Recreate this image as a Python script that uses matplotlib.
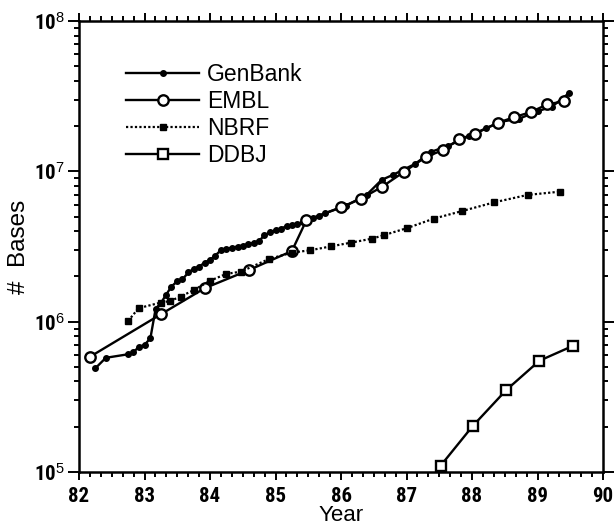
import math
import matplotlib
matplotlib.use("Agg")
import matplotlib.pyplot as plt
from matplotlib import font_manager as fm
from matplotlib.ticker import FixedLocator, LogLocator, NullFormatter, FuncFormatter

# ---- data (values in millions of bases) ----
genbank_year = [82.25, 82.41, 82.75, 82.83, 82.92, 83.00, 83.09, 83.17, 83.25, 83.33,
                83.41, 83.50, 83.58, 83.67, 83.75, 83.83, 83.92, 84.00, 84.08, 84.17,
                84.25, 84.33, 84.42, 84.50, 84.58, 84.67, 84.75, 84.83, 84.92, 85.00,
                85.08, 85.17, 85.25, 85.33, 85.42, 85.50, 85.58, 85.67, 85.76, 86.07,
                86.39, 86.62, 86.79, 87.13, 87.38, 87.64, 87.96, 88.22, 88.45, 88.72,
                89.00, 89.22, 89.48]
genbank_val = [0.49, 0.575, 0.607, 0.628, 0.682, 0.70, 0.776, 1.22, 1.33, 1.51,
               1.71, 1.86, 1.91, 2.13, 2.24, 2.32, 2.47, 2.58, 2.75, 3.00,
               3.05, 3.10, 3.16, 3.21, 3.27, 3.35, 3.44, 3.76, 3.94, 4.06,
               4.15, 4.32, 4.42, 4.49, 4.59, 4.73, 4.90, 5.07, 5.27, 5.89,
               6.97, 8.77, 9.46, 11.2, 13.5, 14.8, 17.2, 19.4, 21.4, 22.4,
               25.1, 26.9, 33.1]

embl_year = [82.17, 83.25, 83.92, 84.60, 85.25, 85.47, 86.00, 86.30, 86.63, 86.96,
             87.30, 87.55, 87.80, 88.05, 88.39, 88.64, 88.90, 89.15, 89.40]
embl_val = [0.585, 1.12, 1.67, 2.21, 2.95, 4.71, 5.77, 6.55, 7.91, 9.91,
            12.5, 13.8, 16.3, 17.8, 21.0, 22.9, 24.8, 27.9, 29.2]

nbrf_year = [82.75, 82.91, 83.25, 83.39, 83.55, 83.75, 84.00, 84.25, 84.47, 84.90,
             85.25, 85.52, 85.85, 86.16, 86.48, 86.66, 87.00, 87.42, 87.84, 88.34,
             88.85, 89.35]
nbrf_val = [1.01, 1.23, 1.34, 1.37, 1.47, 1.62, 1.87, 2.08, 2.15, 2.61,
            2.88, 2.98, 3.17, 3.36, 3.57, 3.77, 4.18, 4.85, 5.43, 6.22,
            6.97, 7.33]

ddbj_year = [87.52, 88.01, 88.52, 89.03, 89.54]
ddbj_val = [0.11, 0.202, 0.35, 0.55, 0.69]

series_labels = ["GenBank", "EMBL", "NBRF", "DDBJ"]
x_ticks = [82, 83, 84, 85, 86, 87, 88, 89, 90]
y_ticks_exp = [5, 6, 7, 8]

MILLION = 1e6


def first_font(cands, weight='normal', stretch='normal'):
    for c in cands:
        try:
            fm.findfont(fm.FontProperties(family=c, weight=weight, stretch=stretch),
                        fallback_to_default=False)
            return c
        except Exception:
            continue
    return 'DejaVu Sans'


cond_name = first_font(['Liberation Sans Narrow', 'DejaVu Sans Condensed', 'Roboto Condensed',
                        'Open Sans Condensed', 'Noto Sans Condensed'], weight='bold')
plain = ['Liberation Sans', 'DejaVu Sans']

plt.rcParams['mathtext.fontset'] = 'custom'
plt.rcParams['mathtext.rm'] = 'Liberation Sans'
plt.rcParams['mathtext.bf'] = cond_name + ':bold'
plt.rcParams['mathtext.it'] = 'Liberation Sans:italic'

fig = plt.figure(figsize=(6.16, 5.27), dpi=100)
ax = fig.add_axes([79/616, 1-472/527, (603-79)/616, (472-21)/527])

ax.plot(genbank_year, [v*MILLION for v in genbank_val], '-', color='black', lw=1.7,
        marker='o', ms=4, mfc='black', mec='black', label=series_labels[0])
ax.plot(embl_year, [v*MILLION for v in embl_val], '-', color='black', lw=1.7,
        marker='o', ms=7.5, mfc='white', mec='black', mew=1.7, label=series_labels[1])
ax.plot(nbrf_year, [v*MILLION for v in nbrf_val], linestyle=(0, (1, 1)), color='black', lw=1.6,
        marker='s', ms=4, mfc='black', mec='black', label=series_labels[2])
ax.plot(ddbj_year, [v*MILLION for v in ddbj_val], '-', color='black', lw=1.7,
        marker='s', ms=7, mfc='white', mec='black', mew=1.7, label=series_labels[3])

ax.set_yscale('log')
ax.set_xlim(82, 90)
ax.set_ylim(1e5, 1e8)

ax.xaxis.set_major_locator(FixedLocator(x_ticks))
ax.xaxis.set_minor_locator(FixedLocator([82 + i/6 for i in range(49)]))
ax.set_xticklabels([str(t) for t in x_ticks], fontfamily=[cond_name, 'DejaVu Sans'],
                   fontweight='bold', fontsize=15)

ax.yaxis.set_major_locator(FixedLocator([10.0**e for e in y_ticks_exp]))
ax.yaxis.set_minor_locator(LogLocator(base=10, subs=range(2, 10)))
ax.yaxis.set_minor_formatter(NullFormatter())
ax.yaxis.set_major_formatter(FuncFormatter(
    lambda v, p: r'$\mathbf{10}^{%d}$' % round(math.log10(v))))
for lab in ax.get_yticklabels():
    lab.set_fontsize(15)

ax.tick_params(which='both', direction='out', top=True, right=True, width=1.4, color='black')
ax.tick_params(which='major', length=6, pad=5)
ax.tick_params(axis='y', which='major', length=8, pad=2)
ax.tick_params(which='minor', length=3.5)
ax.tick_params(labeltop=False, labelright=False)

for s in ax.spines.values():
    s.set_linewidth(1.8)

ax.set_xlabel("Year", fontfamily=plain, fontsize=16, labelpad=-1)
ax.set_ylabel("#  Bases", fontfamily=plain, fontsize=17.5, labelpad=3)

leg = ax.legend(loc='upper left', bbox_to_anchor=(0.0897, 0.907), frameon=False,
                prop={'family': plain, 'size': 16.5}, handlelength=3.2, handletextpad=0.33,
                borderpad=0, borderaxespad=0, labelspacing=0.18)

fig.savefig("out.png", dpi=100)
